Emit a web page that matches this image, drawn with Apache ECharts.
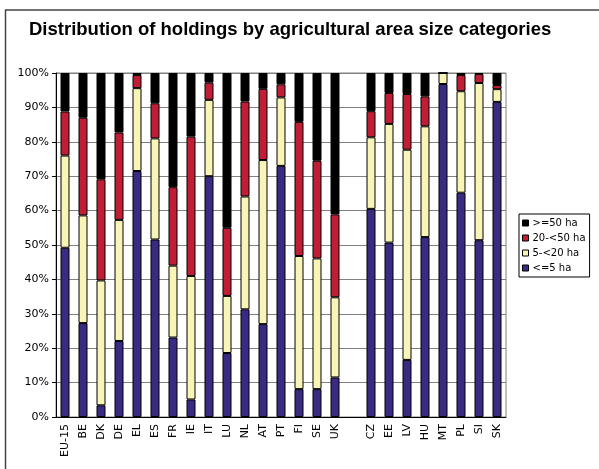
<!DOCTYPE html>
<html>
<head>
<meta charset="utf-8">
<script src="https://cdn.jsdelivr.net/npm/echarts@6/dist/echarts.min.js"></script>
<style>html,body{margin:0;padding:0;background:#fff}#c{width:599px;height:469px}</style>
</head>
<body>
<div id="c"></div>
<script>
const categories = ['EU-15','BE','DK','DE','EL','ES','FR','IE','IT','LU','NL','AT','PT','FI','SE','UK','','CZ','EE','LV','HU','MT','PL','SI','SK'];
const upTo5 =    [49.2,27.3, 3.4,22.1,71.5,51.6,23.1, 5.1,70.0,18.6,31.3,27.0,73.0, 8.1, 8.1,11.5,'-',60.5,50.7,16.6,52.3,96.8,65.2,51.4,91.6];
const from5to20 =[26.8,31.3,36.3,35.2,24.1,29.4,20.9,35.9,22.2,16.6,32.8,47.7,19.9,38.7,38.0,23.3,'-',20.8,34.5,61.1,32.2, 3.2,29.5,45.7, 3.7];
const from20to50=[12.8,28.4,29.4,25.4, 3.8,10.2,22.8,40.5, 5.0,19.8,27.6,20.7, 3.8,39.0,28.4,24.1,'-', 7.6, 9.0,16.2, 8.7, 0.0, 4.7, 2.6, 1.2];
const over50 =   [11.2,13.0,30.9,17.3, 0.6, 8.8,33.2,18.5, 2.8,45.0, 8.3, 4.6, 3.3,14.2,25.5,41.1,'-',11.1, 5.8, 6.1, 6.8, 0.0, 0.6, 0.3, 3.5];
const seriesNames = ['<=5 ha','5-<20 ha','20-<50 ha','>=50 ha'];
const legendOrder = ['>=50 ha','20-<50 ha','5-<20 ha','<=5 ha'];
const colors = ['#3B2A82','#F8F5B6','#C01E35','#000000'];
const yTicks = [0,10,20,30,40,50,60,70,80,90,100];

const chart = echarts.init(document.getElementById('c'), null, {renderer:'canvas'});
const dataSets = [upTo5, from5to20, from20to50, over50];
const series = seriesNames.map((n,i)=>({
  name:n, type:'bar', stack:'all', data:dataSets[i], barWidth:'50%',
  itemStyle:{color:colors[i], borderColor:'#000', borderWidth:1},
  emphasis:{disabled:true}
}));
chart.setOption({
  animation:false,
  backgroundColor:'#fff',
  title:{text:'Distribution of holdings by agricultural area size categories', left:24, top:15,
    textStyle:{fontFamily:'Liberation Sans', fontWeight:'bold', fontSize:18.5, color:'#000'}},
  graphic:[{type:'rect', shape:{x:5.5, y:10, width:800, height:800}, style:{fill:'none', stroke:'#444', lineWidth:1.5}, z:-1}],
  legend:{data:legendOrder, orient:'vertical', left:519, top:214, itemWidth:6, itemHeight:6, itemGap:3,
    borderColor:'#000', borderWidth:1, padding:[3,4,3,3], icon:'rect',
    itemStyle:{borderColor:'#000', borderWidth:1},
    textStyle:{fontFamily:'DejaVu Sans', fontSize:10, color:'#000', lineHeight:12, padding:[0,0,0,-1]}},
  grid:{left:56, top:73, right:93, bottom:52, show:true, borderColor:'#808080', borderWidth:1},
  xAxis:{type:'category', data:categories,
    axisLine:{lineStyle:{color:'#000'}}, axisTick:{length:4, lineStyle:{color:'#000'}},
    axisLabel:{rotate:90, interval:0, fontFamily:'DejaVu Sans', fontSize:11, color:'#000', margin:7}},
  yAxis:{type:'value', min:0, max:100, interval:10,
    axisLine:{show:true, lineStyle:{color:'#000'}}, axisTick:{show:true, length:4, lineStyle:{color:'#000'}},
    splitLine:{lineStyle:{color:'#808080', width:1}},
    axisLabel:{formatter:v=>yTicks.includes(v)?v+'%':'', fontFamily:'DejaVu Sans', fontSize:11, color:'#000', margin:7}},
  series:series
});
</script>
</body>
</html>
